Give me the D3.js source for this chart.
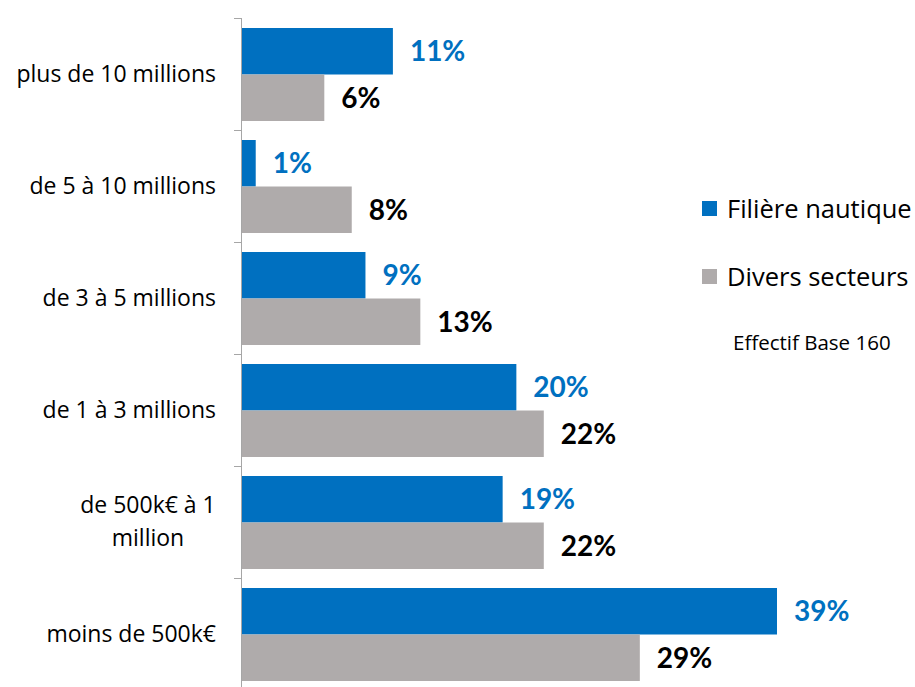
<!DOCTYPE html>
<html lang="fr">
  <head>
    <meta charset="utf-8">
    <title></title>
    <script src="https://d3js.org/d3.v7.min.js"></script>
    <style>
      body { margin: 0; background: #fff; }
      text { font-family: "Open Sans", Lato, sans-serif; }
      text.val { font-family: Lato, "Open Sans", sans-serif; }
    </style>
  </head>
  <body>
    <script type="text/javascript">
    let w = 915;
    let h = 687;

    // data
    let categories = ["plus de 10 millions", "de 5 à 10 millions", "de 3 à 5 millions",
                      "de 1 à 3 millions", "de 500k€ à 1 million", "moins de 500k€"];
    let series = ["Filière nautique", "Divers secteurs"];
    let nautique = [11, 1, 9, 20, 19, 39];
    let divers = [6, 8, 13, 22, 22, 29];
    let colors = ["#0070C0", "#AFABAB"];
    let labelColors = ["#0070C0", "#000000"];
    let note = "Effectif Base 160";

    let rows = categories.map((c, i) => ({cat: c, vals: [nautique[i], divers[i]]}));

    let svg = d3.select("body")
                .append("svg")
                .attr("width", w)
                .attr("height", h);

    let axisX = 242;

    let xScale = d3.scaleLinear()
                   .domain([0, 39])
                   .range([axisX, 777]);

    let yScale = d3.scaleBand()
                   .domain(categories)
                   .range([18, 690]);

    // inner band for the 2 bars in each category
    let ySub = d3.scaleBand()
                 .domain(d3.range(series.length))
                 .range([10, 103]);

    let groups = svg.selectAll("g.cat")
      .data(rows)
      .enter()
      .append("g")
      .attr("class", "cat")
      .attr("transform", d => "translate(0," + yScale(d.cat) + ")");

    groups.selectAll("rect")
      .data(d => d.vals)
      .enter()
      .append("rect")
      .attr("x", axisX)
      .attr("y", (d, i) => ySub(i))
      .attr("width", d => xScale(d) - axisX)
      .attr("height", ySub.bandwidth())
      .attr("fill", (d, i) => colors[i]);

    groups.selectAll("text.val")
      .data(d => d.vals)
      .enter()
      .append("text")
      .attr("class", "val")
      .attr("x", d => xScale(d) + 17)
      .attr("y", (d, i) => ySub(i) + ySub.bandwidth() / 2)
      .attr("dy", "0.36em")
      .attr("font-size", 28)
      .attr("font-weight", "bold")
      .attr("fill", (d, i) => labelColors[i])
      .text(d => d + "%");

    // category axis
    let axisG = svg.append("g");
    axisG.append("line")
      .attr("x1", axisX - 0.5).attr("x2", axisX - 0.5)
      .attr("y1", yScale.range()[0]).attr("y2", yScale.range()[1])
      .attr("stroke", "#A6A6A6");

    let tickYs = categories.map(c => yScale(c)).concat([yScale.range()[1]]);
    axisG.selectAll("line.tick")
      .data(tickYs)
      .enter()
      .append("line")
      .attr("class", "tick")
      .attr("x1", axisX - 8).attr("x2", axisX)
      .attr("y1", d => d + 0.5).attr("y2", d => d + 0.5)
      .attr("stroke", "#A6A6A6");

    // category labels (the long one wraps on 2 lines)
    let wrapped = {"de 500k€ à 1 million": ["de 500k€ à 1", "million"]};
    categories.forEach(c => {
      let cy = yScale(c) + yScale.bandwidth() / 2;
      if (wrapped[c]) {
        let t = svg.append("text")
          .attr("font-size", 23)
          .attr("fill", "#000")
          .attr("text-anchor", "middle");
        wrapped[c].forEach((line, k) => {
          t.append("tspan")
            .attr("x", 148)
            .attr("y", cy - 17 + k * 33)
            .attr("dy", "0.36em")
            .text(line);
        });
      } else {
        svg.append("text")
          .attr("x", 216)
          .attr("y", cy)
          .attr("dy", "0.36em")
          .attr("font-size", 23)
          .attr("fill", "#000")
          .attr("text-anchor", "end")
          .text(c);
      }
    });

    // legend
    let legend = svg.selectAll("g.legend")
      .data(series)
      .enter()
      .append("g")
      .attr("class", "legend")
      .attr("transform", (d, i) => "translate(702," + (201 + i * 68) + ")");

    legend.append("rect")
      .attr("width", 15)
      .attr("height", 15)
      .attr("fill", (d, i) => colors[i]);

    legend.append("text")
      .attr("x", 25)
      .attr("y", 8)
      .attr("dy", "0.36em")
      .attr("font-size", 25.5)
      .attr("fill", "#000")
      .text(d => d);

    svg.append("text")
      .attr("x", 733)
      .attr("y", 343)
      .attr("dy", "0.36em")
      .attr("font-size", 20.5)
      .attr("fill", "#000")
      .text(note);

    </script>
  </body>
</html>
